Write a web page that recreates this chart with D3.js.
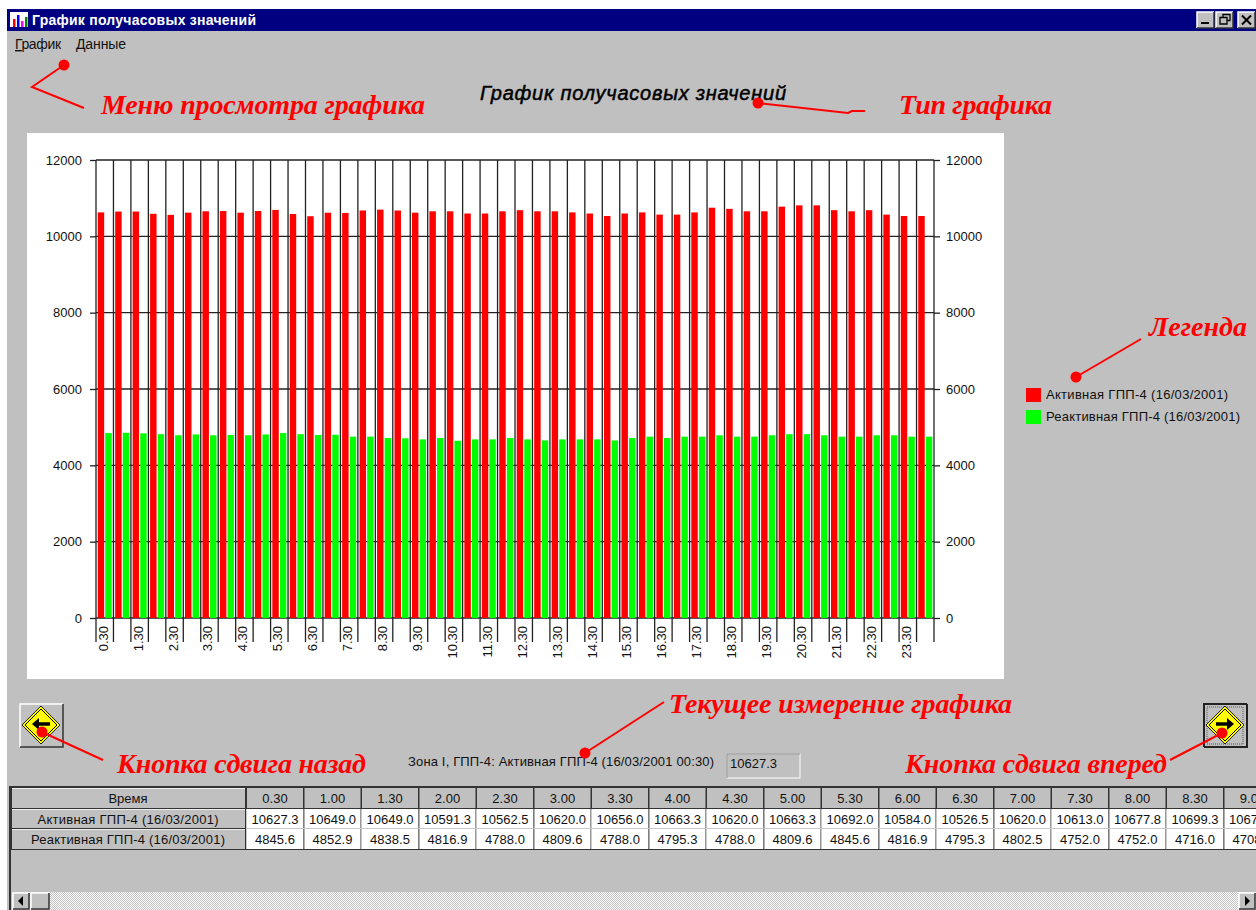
<!DOCTYPE html>
<html lang="ru">
<head>
    <meta charset="utf-8">
    <title>График получасовых значений</title>
    <script src="https://d3js.org/d3.v7.min.js"></script>
    <style>
        html, body { margin: 0; padding: 0; background: #fff; overflow: hidden; }
        svg { display: block; }
        text { font-family: "Liberation Sans", Arial, sans-serif; font-size: 13px; fill: #111; }
        .note { font-family: "Liberation Serif", serif; font-weight: bold; font-style: italic; font-size: 28px; fill: #f00; }
        .pointer { fill: none; stroke: #f00; stroke-width: 2; }
        .axis text { font-size: 13px; fill: #111; }
        .axis path, .axis line { stroke: #222; stroke-width: 1.3; }
    </style>
</head>
<body>

<script>
    const times = ["0.30","1.00","1.30","2.00","2.30","3.00","3.30","4.00","4.30","5.00","5.30","6.00",
        "6.30","7.00","7.30","8.00","8.30","9.00","9.30","10.00","10.30","11.00","11.30","12.00",
        "12.30","13.00","13.30","14.00","14.30","15.00","15.30","16.00","16.30","17.00","17.30","18.00",
        "18.30","19.00","19.30","20.00","20.30","21.00","21.30","22.00","22.30","23.00","23.30","24.00"];

    const active = [10627.3,10649.0,10649.0,10591.3,10562.5,10620.0,10656.0,10663.3,10620.0,10663.3,10692.0,10584.0,
        10526.5,10620.0,10613.0,10677.8,10699.3,10677.0,10620,10656,10656,10598,10598,10656,
        10685,10656,10656,10627,10598,10533,10598,10627,10569,10569,10627,10750,10720,10656,
        10656,10778,10812,10812,10685,10656,10685,10569,10533,10533];

    const reactive = [4845.6,4852.9,4838.5,4816.9,4788.0,4809.6,4788.0,4795.3,4788.0,4809.6,4845.6,4816.9,
        4795.3,4802.5,4752.0,4752.0,4716.0,4708.0,4680,4716,4644,4680,4680,4716,
        4680,4652,4680,4680,4680,4652,4716,4752,4716,4752,4752,4788,4752,4752,
        4788,4816,4816,4788,4752,4752,4788,4788,4752,4752];

    const seriesNames = ["Активная ГПП-4 (16/03/2001)", "Реактивная ГПП-4 (16/03/2001)"];
    const seriesColors = ["#ff0000", "#00ff00"];
    const yTicks = [0,2000,4000,6000,8000,10000,12000];
    const tableCols = 18;

    const svg = d3.select("body").append("svg").attr("width", 1256).attr("height", 910);
    const defs = svg.append("defs");

    const dither = defs.append("pattern").attr("id", "dither").attr("width", 2).attr("height", 2)
        .attr("patternUnits", "userSpaceOnUse");
    dither.append("rect").attr("width", 2).attr("height", 2).attr("fill", "#fff");
    dither.append("rect").attr("width", 1).attr("height", 1).attr("fill", "#c0c0c0");
    dither.append("rect").attr("x", 1).attr("y", 1).attr("width", 1).attr("height", 1).attr("fill", "#c0c0c0");

    // window frame
    svg.append("rect").attr("x", 7).attr("y", 9).attr("width", 1249).attr("height", 901).attr("fill", "#c0c0c0");
    svg.append("rect").attr("x", 7).attr("y", 9).attr("width", 1249).attr("height", 22).attr("fill", "#000080");

    // little app icon
    const icon = svg.append("g");
    icon.append("rect").attr("x", 10).attr("y", 12).attr("width", 18).attr("height", 15).attr("fill", "#fff");
    [[13,19,"#f00"],[17,15,"#00f"],[21,21,"#f0f"],[25,17,"#080"]].forEach(b => {
        icon.append("rect").attr("x", b[0]).attr("y", b[1]).attr("width", 2.5).attr("height", 27 - b[1]).attr("fill", b[2]);
    });
    svg.append("text").attr("x", 32).attr("y", 25).attr("font-weight", "bold")
        .attr("textLength", 224).style("font-size", "14px").style("fill", "#fff").text("График получасовых значений");

    function raised(g, x, y, w, h, sunken) {
        g.append("rect").attr("x", x).attr("y", y).attr("width", w).attr("height", h).attr("fill", "#c0c0c0");
        g.append("path").attr("fill", "none").attr("stroke", sunken ? "#222" : "#fff").attr("stroke-width", sunken ? 2 : 1.5)
            .attr("d", `M${x},${y + h}V${y}H${x + w}`);
        g.append("path").attr("fill", "none").attr("stroke", sunken ? "#222" : "#333").attr("stroke-width", sunken ? 2 : 1.5)
            .attr("d", `M${x},${y + h}H${x + w}V${y}`);
    }

    // window buttons
    const winBtn = svg.append("g");
    raised(winBtn, 1197, 12, 17, 16);
    raised(winBtn, 1216, 12, 17, 16);
    raised(winBtn, 1238, 12, 17, 16);
    winBtn.append("rect").attr("x", 1201).attr("y", 22).attr("width", 8).attr("height", 2).attr("fill", "#000");
    winBtn.append("path").attr("fill", "none").attr("stroke", "#000").attr("stroke-width", 1.3)
        .attr("d", "M1223,17V14.5H1230V20.5H1227M1220,17.5H1227V24H1220Z");
    winBtn.append("path").attr("fill", "none").attr("stroke", "#000").attr("stroke-width", 2)
        .attr("d", "M1242,15.5L1251,24.5M1251,15.5L1242,24.5");

    // menu
    const menu = svg.append("g");
    [["Г","рафик",15,46],["Д","анные",76,50]].forEach(m => {
        const t = menu.append("text").attr("x", m[2]).attr("y", 49).attr("textLength", m[3]).style("font-size", "14px");
        t.append("tspan").style("text-decoration", "underline").text(m[0]);
        t.append("tspan").text(m[1]);
    });

    svg.append("text").attr("x", 480).attr("y", 100).attr("textLength", 306)
        .style("font-size", "20px").style("font-style", "italic")
        .style("fill", "#000").style("stroke", "#000").style("stroke-width", 0.5)
        .text("График получасовых значений");

    // chart panel
    svg.append("rect").attr("x", 27).attr("y", 133).attr("width", 977).attr("height", 546).attr("fill", "#fff");

    const y = d3.scaleLinear().domain([0, 12000]).range([618, 160]);
    const x0 = d3.scaleBand().domain(times).range([96, 934]);
    const x1 = d3.scaleBand().domain(seriesNames).range([0, x0.step()]).paddingInner(0.147).paddingOuter(0.227);
    const edges = d3.range(times.length + 1).map(i => 96 + i * x0.step());

    const grid = svg.append("g").attr("stroke", "#222").attr("stroke-width", 1.3);
    grid.selectAll("line.h").data(yTicks).join("line").attr("class", "h")
        .attr("x1", 96).attr("x2", 934).attr("y1", d => y(d)).attr("y2", d => y(d));
    // verticals run on below the baseline as the category ticks
    grid.selectAll("line.v").data(edges).join("line").attr("class", "v")
        .attr("x1", d => d).attr("x2", d => d).attr("y1", 160).attr("y2", 642);

    const slots = svg.append("g").selectAll("g").data(times).join("g")
        .attr("transform", d => `translate(${x0(d)},0)`);
    slots.selectAll("rect")
        .data((d, i) => [active[i], reactive[i]].map((v, k) => ({ v: v, k: k })))
        .join("rect")
        .attr("x", d => x1(seriesNames[d.k]))
        .attr("y", d => y(d.v))
        .attr("width", x1.bandwidth())
        .attr("height", d => y(0) - y(d.v))
        .attr("fill", d => seriesColors[d.k]);

    svg.append("g").attr("class", "axis").attr("transform", "translate(96,0)")
        .call(d3.axisLeft(y).tickValues(yTicks).tickFormat(d3.format("d")).tickSize(6).tickPadding(8).tickSizeOuter(0))
        .call(g => g.select(".domain").remove());
    svg.append("g").attr("class", "axis").attr("transform", "translate(934,0)")
        .call(d3.axisRight(y).tickValues(yTicks).tickFormat(d3.format("d")).tickSize(6).tickPadding(6).tickSizeOuter(0))
        .call(g => g.select(".domain").remove());

    // every second half hour gets a rotated label
    svg.selectAll("text.cat").data(times.filter((d, i) => i % 2 === 0)).join("text").attr("class", "cat")
        .attr("text-anchor", "end")
        .attr("transform", d => `translate(${x0(d) + x0.bandwidth() / 2 + 3},626) rotate(-90)`)
        .text(d => d);

    // legend
    const legend = svg.append("g").selectAll("g").data(seriesNames).join("g")
        .attr("transform", (d, i) => `translate(1026,${388 + i * 22})`);
    legend.append("rect").attr("width", 15).attr("height", 14).attr("fill", (d, i) => seriesColors[i]);
    legend.append("text").attr("x", 20).attr("y", 11).attr("textLength", (d, i) => i ? 194 : 182).text(d => d);

    // shift buttons
    function shiftButton(cx, dir, sunken) {
        const g = svg.append("g");
        raised(g, cx - 21, 704, 43, 43, sunken);
        if (sunken) g.append("rect").attr("x", cx - 18).attr("y", 707).attr("width", 36).attr("height", 37)
            .attr("fill", "none").attr("stroke", "#555").attr("stroke-dasharray", "1,1");
        g.append("path").attr("fill", "#ffff00").attr("stroke", "#222").attr("stroke-width", 1)
            .attr("d", `M${cx},706L${cx + 19},725L${cx},744L${cx - 19},725Z`);
        g.append("path").attr("fill", "none").attr("stroke", "#000").attr("stroke-width", 1)
            .attr("d", `M${cx},709L${cx + 16},725L${cx},741L${cx - 16},725Z`);
        g.append("path").attr("fill", "none").attr("stroke", "#000").attr("stroke-width", 3.5)
            .attr("d", `M${cx - dir * 9},724H${cx + dir * 3}`);
        g.append("path").attr("fill", "#000")
            .attr("d", `M${cx + dir * 9},724L${cx + dir * 2},718V730Z`);
    }
    shiftButton(41, -1, false);
    shiftButton(1225, 1, true);

    // current measurement
    svg.append("text").attr("x", 408).attr("y", 766).attr("textLength", 306)
        .text("Зона I, ГПП-4: Активная ГПП-4 (16/03/2001 00:30)");
    svg.append("rect").attr("x", 727).attr("y", 754).attr("width", 73).attr("height", 24)
        .attr("fill", "#c0c0c0").attr("stroke", "#fff");
    svg.append("path").attr("fill", "none").attr("stroke", "#808080").attr("d", "M727,778V754H800");
    svg.append("text").attr("x", 730).attr("y", 768).text(active[0].toFixed(1));

    // data table
    const tableG = svg.append("g");
    const colX = d3.scaleLinear().domain([0, 1]).range([246, 303.5]);
    const rowY = [788, 809, 829];
    const rowH = [20, 19, 20];
    const rowNames = ["Время"].concat(seriesNames);
    const rowLen = [null, 181, 194];
    const clip = defs.append("clipPath").attr("id", "tbl");
    clip.append("rect").attr("x", 10).attr("y", 786).attr("width", 1246).attr("height", 65);

    const table = tableG.append("g").attr("clip-path", "url(#tbl)");
    table.append("rect").attr("x", 10).attr("y", 786).attr("width", 1246).attr("height", 64).attr("fill", "#333");

    rowNames.forEach((name, r) => {
        const rg = table.append("g");
        rg.append("rect").attr("x", 12).attr("y", rowY[r]).attr("width", 233).attr("height", rowH[r]).attr("fill", "#c0c0c0");
        rg.append("rect").attr("x", 12).attr("y", rowY[r]).attr("width", 233).attr("height", 1).attr("fill", "#eee");
        const label = rg.append("text").attr("x", 128).attr("y", rowY[r] + 15).attr("text-anchor", "middle").text(name);
        if (rowLen[r]) label.attr("textLength", rowLen[r]);
        const vals = r === 0 ? times : (r === 1 ? active : reactive);
        const cells = rg.selectAll("g").data(d3.range(tableCols)).join("g")
            .attr("transform", i => `translate(${colX(i)},${rowY[r]})`);
        cells.append("rect").attr("x", 1).attr("width", 56).attr("height", rowH[r])
            .attr("fill", r === 0 ? "#c0c0c0" : "#fff");
        cells.append("text").attr("x", 29).attr("y", 15).attr("text-anchor", "middle")
            .text(i => r === 0 ? vals[i] : vals[i].toFixed(1));
    });
    // lighter rules between white cells
    table.append("rect").attr("x", 246).attr("y", 828).attr("width", 1010).attr("height", 1).attr("fill", "#c8c8c8");
    table.selectAll("rect.sep").data(d3.range(tableCols)).join("rect").attr("class", "sep")
        .attr("x", i => colX(i)).attr("y", 809).attr("width", 1).attr("height", 40).attr("fill", "#c8c8c8");

    // frame under the table and the scrollbar
    svg.append("path").attr("fill", "none").attr("stroke", "#333").attr("stroke-width", 2).attr("d", "M10,786V910");
    svg.append("rect").attr("x", 12).attr("y", 892).attr("width", 1244).attr("height", 18).attr("fill", "url(#dither)");
    const sb = svg.append("g");
    raised(sb, 13, 893, 16, 16);
    raised(sb, 31, 893, 18, 16);
    raised(sb, 1239, 893, 16, 16);
    sb.append("path").attr("d", "M18,901L23,896V906Z");
    sb.append("path").attr("d", "M1250,901L1245,896V906Z");

    // red callouts
    const pointers = [
        { pts: "64,65 32,87 84,108", dot: [64, 65] },
        { pts: "758,103 848,113 852,111 865,111", dot: [758, 103] },
        { pts: "1076,377 1141,339", dot: [1076, 377] },
        { pts: "585,753 664,702", dot: [585, 753] },
        { pts: "42,732 103,760", dot: [42, 732] },
        { pts: "1222,733 1170,760", dot: [1222, 733] }
    ];
    const notes = [
        ["Меню просмотра графика", 101, 114, 324],
        ["Тип графика", 899, 114, 153],
        ["Легенда", 1149, 336, 98],
        ["Текущее измерение графика", 669, 713, 343],
        ["Кнопка сдвига назад", 117, 773, 249],
        ["Кнопка сдвига вперед", 905, 773, 262]
    ];
    svg.selectAll("polyline.pointer").data(pointers).join("polyline").attr("class", "pointer").attr("points", d => d.pts);
    svg.selectAll("circle.dot").data(pointers).join("circle").attr("class", "dot").attr("r", 5.5).attr("fill", "#f00")
        .attr("cx", d => d.dot[0]).attr("cy", d => d.dot[1]);
    svg.selectAll("text.note").data(notes).join("text").attr("class", "note")
        .attr("x", d => d[1]).attr("y", d => d[2]).attr("textLength", d => d[3]).text(d => d[0]);
</script>

</body>
</html>
